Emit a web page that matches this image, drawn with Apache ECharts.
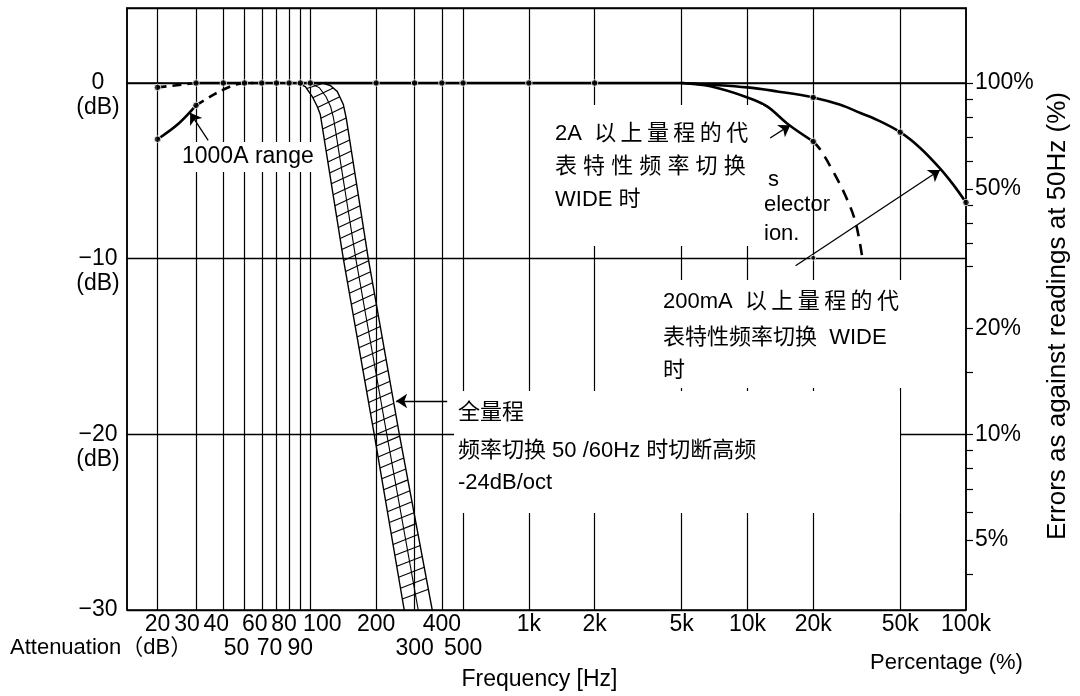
<!DOCTYPE html>
<html><head><meta charset="utf-8">
<script src="https://cdn.jsdelivr.net/npm/echarts@6/dist/echarts.min.js"></script>
<style>html,body{margin:0;padding:0;background:#fff}#c{width:1080px;height:696px}</style>
</head><body><div id="c"></div>
<script>
// ---------- data ----------
const gridFreqs = [20,30,40,50,60,70,80,90,100,200,300,400,500,1000,2000,5000,10000,20000,50000];
const freqLabelsRow1 = [20,30,40,60,80,100,200,400,1000,2000,5000,10000,20000,50000,100000];
const freqLabelsRow2 = [50,70,90,300,500];
const dbLabels = [-30,-20,-10,0];
const pctLabels = [100,50,20,10,5];
const pctMinorTicks = [90,80,70,60,45,40,35,30,15,9,8,7,6,4];

// flat 0 dB characteristic
const flatLeadF = [20,30];
const flatLeadDb = [-0.25,0];
const flatF = [30,40,50,60,70,80,90,100,200,300,400,500,1000,2000,5000];
const flatDb = [0,0,0,0,0,0,0,0,0,0,0,0,0,0,0];
const flatDotF = [20,30,40,50,60,70,80,90,100,200,300,400,500,1000,2000];
const flatDotDb = [-0.25,0,0,0,0,0,0,0,0,0,0,0,0,0,0];

// 1000A range (low-frequency roll-off)
const cSolidF = [20,25,30];
const cSolidDb = [-3.2,-2.3,-1.27];
const cDashF = [30,35,40,47,55];
const cDashDb = [-1.27,-0.76,-0.38,-0.05,0];
const cDotF = [20,30];
const cDotDb = [-3.2,-1.27];

// 2A range, WIDE
const aSolidF = [5000,6770,10000,12300,15450,20000];
const aSolidDb = [0,-0.19,-0.82,-1.33,-2.38,-3.33];
const aDashF = [20000,21600,24700,28000,31200,33500];
const aDashDb = [-3.33,-3.81,-5.05,-6.38,-7.9,-9.9];
const aDotF = [20000];
const aDotDb = [-3.33];

// 200mA range, WIDE
const bF = [5000,10000,13700,20000,26600,32900,39200,50000,61900,76000,87600,100000];
const bDb = [0,-0.25,-0.48,-0.82,-1.24,-1.71,-2.1,-2.8,-3.71,-4.86,-5.8,-6.8];
const bDotF = [20000,50000,100000];
const bDotDb = [-0.82,-2.8,-6.8];

// 50/60Hz filter band (-24dB/oct)
const bandLeftF = [87.2,94.9,102.1,107.6,111.1,141.6,196.1,269.0];
const bandLeftDb = [0,-0.2,-0.77,-1.34,-1.79,-10,-20,-30];
const bandRightF = [113.5,123.4,132.8,141.6,146.1,184.2,255.5,361.3];
const bandRightDb = [0,-0.14,-0.48,-1.22,-2.02,-10,-20,-30];

// arrows [fromF, fromDb, toF, toDb]
const arrow1000A = [34.1,-3.26,28.2,-1.7];
const arrow2A = [12700,-3.13,15700,-2.4];
const arrow200mA = [16600,-10.4,76000,-4.95];
const arrowAll = [423,-18.1,247,-18.1];
const arrowStartDotF = [20000];
const arrowStartDotDb = [-9.95];

// ---------- chart ----------
const FONT = "'Liberation Sans', Arial, 'Noto Sans CJK SC', sans-serif";
const Y_MIN = -30, Y_MAX = 4.27;
const X_MIN = 14.5, X_MAX = 100000;
const fmtF = v => { v = Math.round(v); return v >= 1000 ? (v/1000)+'k' : String(v); };
const toDb = p => 20*Math.log10(p/100);
const pairs = (xs, ys) => xs.map((x,i)=>[x, ys[i]]);
const K = '#000';

const chart = echarts.init(document.getElementById('c'));

function cum(P){const c=[0];for(let i=1;i<P.length;i++)c.push(c[i-1]+Math.hypot(P[i][0]-P[i-1][0],P[i][1]-P[i-1][1]));return c;}
function at(P,c,s){
  if (s<=0) return P[0].slice();
  const T=c[c.length-1]; if (s>=T) return P[P.length-1].slice();
  for (let i=1;i<P.length;i++) if (c[i]>=s){const u=(s-c[i-1])/(c[i]-c[i-1]);return [P[i-1][0]+u*(P[i][0]-P[i-1][0]),P[i-1][1]+u*(P[i][1]-P[i-1][1])];}
  return P[P.length-1].slice();
}

function lineSeries(data, opts){
  return Object.assign({type:'line', data, showSymbol:false, symbol:'none', smooth:0.35,
    lineStyle:{color:K, width:2.6}, z:5, silent:true, animation:false}, opts||{});
}
function dotSeries(data, size){
  return {type:'scatter', data, symbol:'circle', symbolSize:size||6.5, z:6, silent:true,
    itemStyle:{color:K, borderColor:'#fff', borderWidth:1}};
}
function arrowData(a){ return [{coord:[a[0],a[1]]},{coord:[a[2],a[3]]}]; }

// label shift (px, negative = left) for crowded low-frequency tick labels
const labelShift = {30:-9, 40:-7, 50:-8, 60:-7, 70:-7, 80:-5, 100:12};
function shiftedLabel(v){
  const r = Math.round(v), s = fmtF(r), d = labelShift[r] || 0;
  if (d < 0) return '{l'+(-d)+'|'+s+'}';
  if (d > 0) return '{r'+d+'|'+s+'}';
  return '{n|'+s+'}';
}
const labelRich = {n:{fontSize:23,fontFamily:FONT,color:K}};
Object.keys(labelShift).forEach(k=>{
  const d = labelShift[k];
  const key = d<0 ? 'l'+(-d) : 'r'+d;
  labelRich[key] = {fontSize:23,fontFamily:FONT,color:K,padding: d<0 ? [0,-2*d,0,0] : [0,0,0,2*d]};
});

const textStyle = (sz) => ({font: sz+'px '+FONT, fill:K});
function gText(x,y,t,sz){ return {type:'text', x, y, z:101, silent:true,
  style:Object.assign({text:t, textVerticalAlign:'middle', verticalAlign:'middle'}, textStyle(sz||22))}; }
function gRect(x,y,w,h){ return {type:'rect', z:100, silent:true, shape:{x,y,width:w,height:h}, style:{fill:'#fff'}}; }

const option = {
  animation:false,
  backgroundColor:'#fff',
  grid:{left:127, right:114, top:8, bottom:86, show:true, borderColor:K, borderWidth:1.5},
  xAxis:[
    {type:'log', logBase:10, min:X_MIN, max:X_MAX, position:'bottom',
     axisLine:{show:true, lineStyle:{color:K, width:1.5}}, axisTick:{show:false},
     splitLine:{show:false}, minorTick:{show:false}, minorSplitLine:{show:false},
     axisLabel:{customValues:freqLabelsRow1, margin:3, color:K, fontSize:23, fontFamily:FONT,
       formatter:shiftedLabel, rich:labelRich},
     name:'Frequency [Hz]', nameLocation:'middle', nameGap:58,
     nameTextStyle:{color:K, fontSize:23, fontFamily:FONT, padding:[0,14,0,0]}},
    {type:'log', logBase:10, min:X_MIN, max:X_MAX, position:'bottom',
     axisLine:{show:false}, axisTick:{show:false}, splitLine:{show:false},
     axisLabel:{customValues:freqLabelsRow2, margin:27, color:K, fontSize:23, fontFamily:FONT,
       formatter:shiftedLabel, rich:labelRich}}
  ],
  yAxis:[
    {type:'value', min:Y_MIN, max:Y_MAX, interval:10, position:'left',
     axisLine:{show:true, lineStyle:{color:K, width:1.5}}, axisTick:{show:false},
     splitLine:{show:true, lineStyle:{color:K, width:1.3}},
     axisLabel:{customValues:dbLabels, margin:29, align:'center', color:K, fontSize:23, fontFamily:FONT, lineHeight:25,
       formatter:v=>{const r=Math.round(v); const s = r===0 ? '0' : '\u2212'+Math.abs(r);
         if (r===-30) return '{v|'+s+'}'; return '\n{v|'+s+'}\n{v|(dB)}';},
       rich:{v:{fontSize:23,fontFamily:FONT,color:K,lineHeight:25}}}},
    {type:'value', min:Y_MIN, max:Y_MAX, position:'right',
     axisLine:{show:true, lineStyle:{color:K, width:1.5}},
     axisTick:{show:true, inside:false, length:7, customValues:pctLabels.concat(pctMinorTicks).map(toDb), lineStyle:{color:K, width:1.2}},
     splitLine:{show:false},
     axisLabel:{customValues:pctLabels.map(toDb), margin:9, color:K, fontSize:23, fontFamily:FONT,
       formatter:v=>Math.round(100*Math.pow(10, v/20))+'%'},
     name:'Errors as against readings at 50Hz (%)', nameLocation:'middle', nameRotate:90, nameGap:78,
     nameTextStyle:{color:K, fontSize:26, fontFamily:FONT, padding:[0,14,0,0]}}
  ],
  graphic:{elements:[
    gRect(176,142,144,30), gText(182,157,'1000A range',23),
    gRect(548,105,215,141),
    gText(555,134,'2A  以\u2009上\u2009量\u2009程\u2009的\u2009代',22),
    gText(555,167,'表 特 性 频 率 切 换',22),
    gText(555,200,'WIDE 时',22),
    gText(768,180,'s',22), gText(764,205,'elector',22), gText(764,234,'ion.',22),
    gRect(655,280,263,108),
    gText(663,302,'200mA  以\u2009上\u2009量\u2009程\u2009的\u2009代',22),
    gText(663,338,'表特性频率切换  WIDE',22),
    gText(663,371,'时',22),
    gRect(454,391,446,122),
    gText(458,413,'全量程',22),
    gText(458,451,'频率切换 50 /60Hz 时切断高频',22),
    gText(458,483,'-24dB/oct',22),
    gText(10,648,'Attenuation（dB）',22),
    gText(870,663,'Percentage (%)',22)
  ]},
  series:[
    {type:'line', data:[], z:1, silent:true,
     markLine:{silent:true, animation:false, symbol:['none','none'], label:{show:false},
       lineStyle:{color:K, width:1.2, type:'solid'}, emphasis:{disabled:true},
       data:gridFreqs.map(f=>({xAxis:f}))}},
    {type:'custom', coordinateSystem:'cartesian2d', z:4, silent:true, clip:true,
     data:[[bandLeftF[0], bandLeftDb[0]]],
     renderItem:(params, api)=>{
       const L = bandLeftF.map((f,i)=>api.coord([f, bandLeftDb[i]]));
       const R = bandRightF.map((f,i)=>api.coord([f, bandRightDb[i]]));
       const cL = cum(L), cR = cum(R);
       const TL = cL[cL.length-1], TR = cR[cR.length-1];
       const N = Math.round(TL/11);
       const st = {stroke:K, lineWidth:1.1, fill:null};
       const kids = [
         {type:'polyline', shape:{points:L}, style:{stroke:K, lineWidth:1.4, fill:null}},
         {type:'polyline', shape:{points:R}, style:{stroke:K, lineWidth:1.4, fill:null}}
       ];
       const mid = [];
       for (let k=0;k<=N;k++){
         const p = at(L,cL,k/N*TL), q = at(R,cR,k/N*TR);
         mid.push([(p[0]+q[0])/2,(p[1]+q[1])/2]);
       }
       kids.push({type:'polyline', shape:{points:mid}, style:st});
       for (let k=1;k<N;k++){
         const p = at(L,cL,k/N*TL), q = at(R,cR,k/N*TR-10);
         kids.push({type:'line', shape:{x1:p[0],y1:p[1],x2:q[0],y2:q[1]}, style:st});
       }
       return {type:'group', children:kids};
     }},
    lineSeries(pairs(flatLeadF, flatLeadDb), {smooth:false, lineStyle:{color:K, width:2.6, type:[9,6]}}),
    lineSeries(pairs(flatF, flatDb), {smooth:false}),
    lineSeries(pairs(cSolidF, cSolidDb)),
    lineSeries(pairs(cDashF, cDashDb), {lineStyle:{color:K, width:2.6, type:[9,6]}}),
    lineSeries(pairs(aSolidF, aSolidDb)),
    lineSeries(pairs(aDashF, aDashDb), {lineStyle:{color:K, width:2.6, type:[11,8]}}),
    lineSeries(pairs(bF, bDb)),
    dotSeries(pairs(flatDotF, flatDotDb)),
    dotSeries(pairs(cDotF, cDotDb)),
    dotSeries(pairs(aDotF, aDotDb)),
    dotSeries(pairs(bDotF, bDotDb)),
    dotSeries(pairs(arrowStartDotF, arrowStartDotDb), 5),
    {type:'line', data:[], z:7, silent:true,
     markLine:{silent:true, animation:false, symbol:['none','arrow'], symbolSize:11, label:{show:false},
       lineStyle:{color:K, width:1.3, type:'solid'}, emphasis:{disabled:true},
       data:[arrowData(arrow1000A), arrowData(arrow2A), arrowData(arrow200mA), arrowData(arrowAll)]}}
  ]
};
chart.setOption(option);
</script>
</body></html>
